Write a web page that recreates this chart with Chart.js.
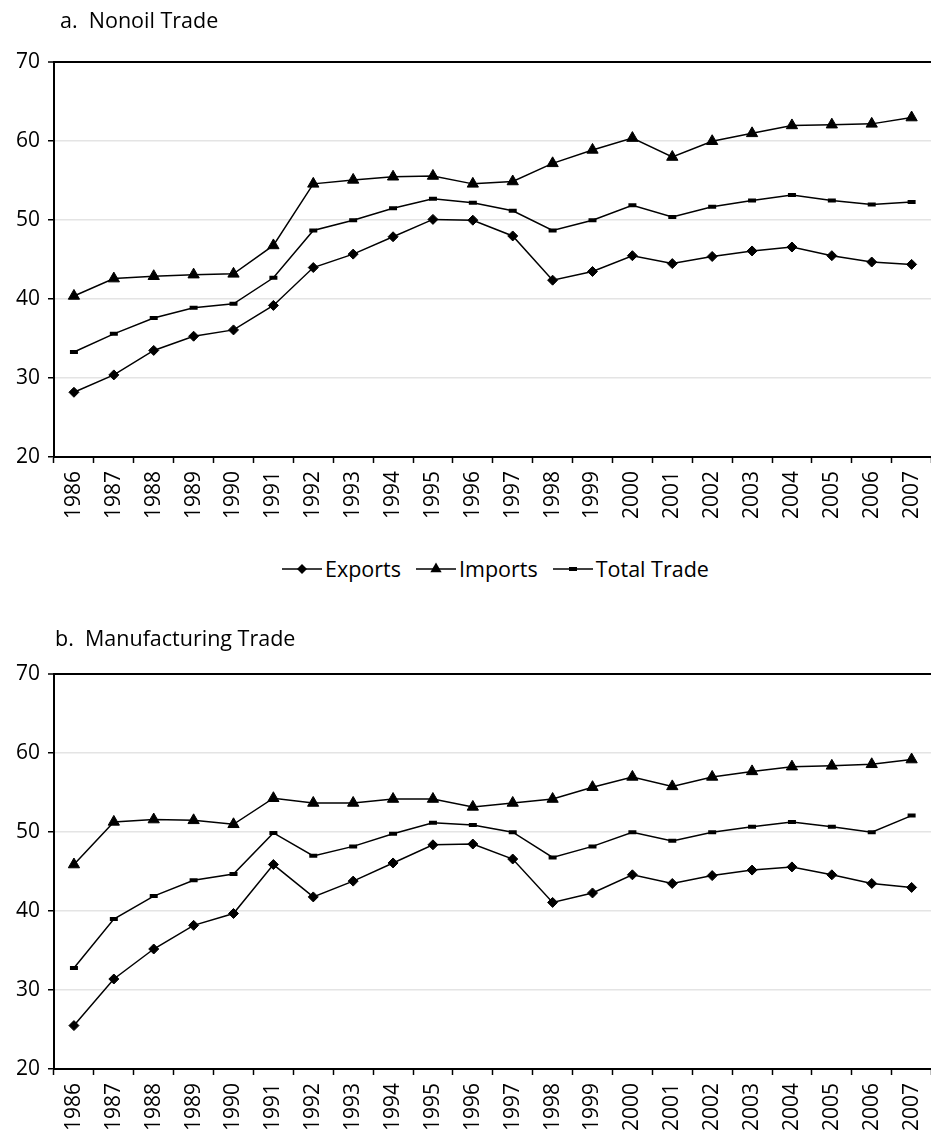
<!DOCTYPE html>
<html>
<head>
<meta charset="utf-8">
<script src="https://cdn.jsdelivr.net/npm/chart.js@4.4.1/dist/chart.umd.min.js"></script>
<style>
  html, body { margin:0; padding:0; background:#fff; overflow:hidden; width:931px; height:1130px; }
  body { position:relative; font-family:"Open Sans", "Noto Sans", sans-serif; color:#000; }
  canvas { position:absolute; left:0; }
  .title { position:absolute; font-size:21.5px; white-space:pre; z-index:2; }
  #legend { position:absolute; left:282px; top:554px; display:flex; align-items:center; font-size:21.5px; z-index:2; }
  #legend .item { display:flex; align-items:center; margin-right:15px; }
  #legend canvas { position:static; margin-right:3px; }
</style>
</head>
<body>
<div class="title" style="left:60px; top:5px;">a.  Nonoil Trade</div>
<canvas id="chartA" width="945" height="520" style="top:0px"></canvas>
<div id="legend"></div>
<div class="title" style="left:55px; top:623px;">b.  Manufacturing Trade</div>
<canvas id="chartB" width="945" height="520" style="top:612px"></canvas>
<script>
// categories and series
const years = ['1986','1987','1988','1989','1990','1991','1992','1993','1994','1995','1996',
               '1997','1998','1999','2000','2001','2002','2003','2004','2005','2006','2007'];

const seriesNames = ['Exports','Imports','Total Trade'];

const nonoilExports = [28.2,30.4,33.5,35.3,36.1,39.2,44.0,45.7,47.9,50.1,50.0,48.0,42.4,43.5,45.5,44.5,45.4,46.1,46.6,45.5,44.7,44.4];
const nonoilImports = [40.4,42.6,42.9,43.1,43.2,46.8,54.6,55.1,55.5,55.6,54.6,54.9,57.2,58.9,60.4,58.0,60.0,61.0,62.0,62.1,62.2,63.0];
const nonoilTotal   = [33.3,35.6,37.6,38.9,39.4,42.7,48.7,50.0,51.5,52.7,52.2,51.2,48.7,50.0,51.9,50.4,51.7,52.5,53.2,52.5,52.0,52.3];

const manufExports = [25.5,31.4,35.2,38.2,39.7,45.9,41.8,43.8,46.1,48.4,48.5,46.6,41.1,42.3,44.6,43.5,44.5,45.2,45.6,44.6,43.5,43.0];
const manufImports = [45.9,51.3,51.6,51.5,51.0,54.3,53.7,53.7,54.2,54.2,53.2,53.7,54.2,55.7,57.0,55.8,57.0,57.7,58.3,58.4,58.6,59.2];
const manufTotal   = [32.8,39.0,41.9,43.9,44.7,49.9,47.0,48.2,49.8,51.2,50.9,50.0,46.8,48.2,50.0,48.9,50.0,50.7,51.3,50.7,50.0,52.1];

// y axis ticks
const yMin = 20, yMax = 70, yStep = 10;

const FONT = '"Open Sans", "Noto Sans", sans-serif';

// marker look per series: diamond, triangle, flat bar
const markers = [
  {pointStyle:'rectRot', pointRadius:5, pointBorderWidth:1},
  {pointStyle:'triangle', pointRadius:6.5, pointBorderWidth:1},
  {pointStyle:'line', pointRadius:4, pointBorderWidth:4}
];

function makeDatasets(values){
  return values.map((v,i)=>({
    label: seriesNames[i],
    data: v,
    borderColor:'#000',
    backgroundColor:'#000',
    pointBackgroundColor:'#000',
    pointBorderColor:'#000',
    borderWidth:1.5,
    tension:0,
    pointHoverRadius: markers[i].pointRadius,
    ...markers[i]
  }));
}

function makeChart(id, values){
  return new Chart(document.getElementById(id), {
    type:'line',
    data:{ labels: years, datasets: makeDatasets(values) },
    options:{
      responsive:false,
      animation:false,
      layout:{ padding:{ top:62.3, right:4, left:0, bottom:0 } },
      plugins:{ legend:{display:false}, tooltip:{enabled:false}, title:{display:false} },
      scales:{
        x:{
          type:'category',
          offset:true,
          afterFit: s => { s.height = 63; },
          grid:{ offset:true, drawOnChartArea:false, drawTicks:true, tickLength:6, tickColor:'#000', tickWidth:1.5 },
          border:{ display:true, color:'#000', width:2 },
          ticks:{ autoSkip:false, minRotation:90, maxRotation:90, padding:8,
                  color:'#000', font:{ family:FONT, size:21 } }
        },
        y:{
          min:yMin, max:yMax,
          afterFit: s => { s.width = 54; },
          grid:{
            color: c => (c.tick && c.tick.value === yMax) ? '#000' : '#e4e4e4',
            lineWidth: c => (c.tick && c.tick.value === yMax) ? 2 : 1.5,
            tickColor:'#000', tickLength:6, tickWidth:1.5
          },
          border:{ display:true, color:'#000', width:2 },
          ticks:{ stepSize:yStep, padding:8, color:'#000', font:{ family:FONT, size:21 } }
        }
      }
    }
  });
}

makeChart('chartA', [nonoilExports, nonoilImports, nonoilTotal]);
makeChart('chartB', [manufExports, manufImports, manufTotal]);

// legend: short line with the series marker, then the name
function drawSwatch(cv, m){
  const g = cv.getContext('2d');
  const w = cv.width, h = cv.height, cy = h/2, cx = w/2;
  g.strokeStyle = '#000'; g.fillStyle = '#000'; g.lineWidth = 1.5;
  g.beginPath(); g.moveTo(0, cy); g.lineTo(w, cy); g.stroke();
  const r = m.pointRadius;
  g.beginPath();
  if(m.pointStyle === 'rectRot'){
    g.moveTo(cx, cy-r); g.lineTo(cx+r, cy); g.lineTo(cx, cy+r); g.lineTo(cx-r, cy); g.closePath(); g.fill();
  } else if(m.pointStyle === 'triangle'){
    g.moveTo(cx, cy-r); g.lineTo(cx+r*0.866, cy+r/2); g.lineTo(cx-r*0.866, cy+r/2); g.closePath(); g.fill();
  } else {
    g.fillRect(cx-r, cy-m.pointBorderWidth/2, 2*r, m.pointBorderWidth);
  }
}

const legend = document.getElementById('legend');
seriesNames.forEach((name,i)=>{
  const item = document.createElement('div'); item.className = 'item';
  const cv = document.createElement('canvas'); cv.width = 40; cv.height = 24;
  drawSwatch(cv, markers[i]);
  const span = document.createElement('span'); span.textContent = name;
  item.appendChild(cv); item.appendChild(span);
  legend.appendChild(item);
});
</script>
</body>
</html>
